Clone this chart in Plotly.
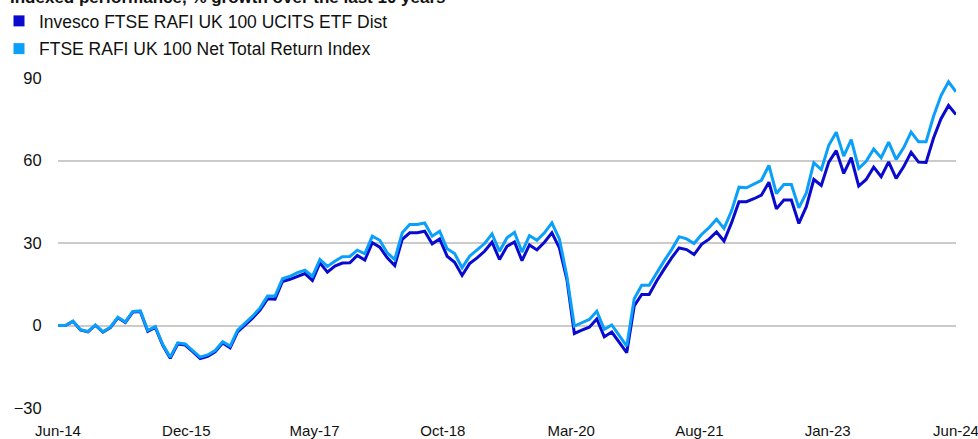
import plotly.graph_objects as go
import pandas as pd

# Monthly observations Jun-14 .. Jun-24 (121 points)
months = [d.strftime("%b-%y") for d in pd.date_range("2014-06-01", periods=121, freq="MS")]

etf = [0, 0, 1.5, -1.6, -2.3, 0.1, -2.4, -0.8, 2.8, 1.1,
       4.9, 5.1, -2.1, -0.7, -7.2, -11.9, -6.7, -7.1, -9.5, -12.0,
       -11.2, -9.6, -6.4, -8.1, -2.3, 0.2, 2.7, 5.6, 9.7, 9.6,
       16.0, 16.8, 17.9, 18.9, 16.4, 22.8, 19.4, 21.6, 22.7, 22.8,
       25.5, 23.8, 30.1, 28.5, 24.6, 21.8, 31.3, 33.7, 33.7, 34.3,
       29.7, 31.5, 25.2, 23.0, 18.2, 22.5, 24.6, 27.0, 30.3, 24.0,
       28.8, 30.4, 23.6, 29.3, 27.5, 30.3, 33.7, 28.2, 16.8, -2.9,
       -1.7, -0.6, 2.4, -4.1, -2.4, -6.3, -9.9, 7.1, 11.3, 11.3,
       16.2, 20.5, 24.6, 28.2, 27.6, 25.8, 29.5, 31.4, 34.0, 30.7,
       37.3, 45.0, 45.0, 46.1, 47.4, 52.1, 42.4, 45.6, 45.6, 37.1,
       43.2, 53.1, 50.9, 59.4, 63.6, 55.3, 61.0, 50.7, 53.1, 57.6,
       54.1, 59.5, 53.5, 57.7, 63.0, 59.4, 59.3, 68.2, 75.2, 80.0,
       76.7]

index = [0, 0, 1.6, -1.5, -2.2, 0.2, -2.3, -0.6, 3.0, 1.3,
         5.1, 5.3, -1.8, -0.4, -6.9, -11.5, -6.3, -6.7, -9.1, -11.5,
         -10.7, -9.1, -5.9, -7.5, -1.7, 0.8, 3.4, 6.4, 10.7, 10.7,
         17.0, 17.9, 19.2, 20.1, 17.9, 24.0, 21.5, 23.4, 25.0, 25.1,
         27.4, 26.1, 32.5, 31.0, 26.4, 24.0, 33.7, 36.7, 36.7, 37.3,
         32.5, 34.3, 27.9, 26.2, 21.0, 25.2, 27.6, 29.8, 33.3, 27.0,
         31.9, 33.9, 26.7, 32.7, 31.0, 33.7, 37.3, 31.5, 17.9, -0.2,
         1.0, 2.2, 5.2, -1.4, 0.2, -3.8, -7.5, 9.7, 14.6, 14.6,
         19.2, 23.5, 27.6, 32.3, 31.5, 29.8, 33.1, 35.6, 38.6, 35.3,
         41.6, 50.3, 50.1, 51.6, 52.8, 58.2, 48.0, 51.3, 51.3, 42.8,
         48.2, 59.2, 56.7, 65.5, 70.3, 61.6, 67.6, 57.1, 59.7, 64.2,
         61.0, 66.7, 60.4, 64.6, 70.3, 66.8, 66.8, 76.1, 83.6, 88.6,
         85.0]

tick_labels = ["Jun-14", "Dec-15", "May-17", "Oct-18", "Mar-20", "Aug-21", "Jan-23", "Jun-24"]
y_ticks = [-30, 0, 30, 60, 90]

names = ["Invesco FTSE RAFI UK 100 UCITS ETF Dist", "FTSE RAFI UK 100 Net Total Return Index"]
colors = ["#0A0ACF", "#0AA0FA"]

xs = list(range(len(months)))
n_last = len(months) - 1
tick_pos = [n_last * k / (len(tick_labels) - 1) for k in range(len(tick_labels))]

fig = go.Figure()
for name, vals, col in zip(names, [etf, index], colors):
    fig.add_trace(go.Scatter(x=xs, y=vals, mode="lines", line=dict(color=col, width=3),
                             name=name, showlegend=False, customdata=months,
                             hovertemplate="%{customdata}: %{y}<extra>" + name + "</extra>"))
for k, (name, col) in enumerate(zip(names, colors)):
    fig.add_trace(go.Scatter(x=[None], y=[None], mode="markers", name=name,
                             legendgroup="g%d" % k,
                             marker=dict(symbol="square", size=11, color=col)))

font = "Liberation Sans, Arial, sans-serif"
PW, PH = 898, 330  # plot area in px
fig.update_layout(
    width=978, height=439,
    margin=dict(l=58, r=22, t=78, b=31, autoexpand=False),
    paper_bgcolor="white", plot_bgcolor="white",
    font=dict(family=font, color="#111111", size=17),
    showlegend=True,
    legend=dict(x=-59 / PW, y=1 + 75 / PH, xref="paper", yref="paper",
                xanchor="left", yanchor="top",
                font=dict(size=17.5, family=font, color="#111111"),
                bgcolor="rgba(0,0,0,0)", borderwidth=0, tracegroupgap=2,
                itemwidth=30),
    xaxis=dict(range=[0, n_last], tickvals=tick_pos, ticktext=tick_labels,
               showgrid=False, zeroline=False, showline=False,
               ticks="outside", ticklen=9, tickcolor="rgba(0,0,0,0)",
               ticklabeloverflow="allow",
               tickfont=dict(size=15, family=font, color="#111111")),
    yaxis=dict(range=[-30, 90], tickvals=y_ticks, showgrid=True, gridcolor="#CBCBCB",
               gridwidth=1.5, zeroline=False, showline=False,
               ticks="outside", ticklen=12, tickcolor="rgba(0,0,0,0)",
               tickfont=dict(size=16.5, family=font, color="#111111")),
    annotations=[dict(text="<b>Indexed performance, % growth over the last 10 years</b>",
                      xref="paper", yref="paper", x=-50 / PW, y=(408 - 9) / PH,
                      xanchor="left", yanchor="bottom", showarrow=False,
                      font=dict(size=17, family=font, color="#111111"))],
)

fig.write_html("out.html")
